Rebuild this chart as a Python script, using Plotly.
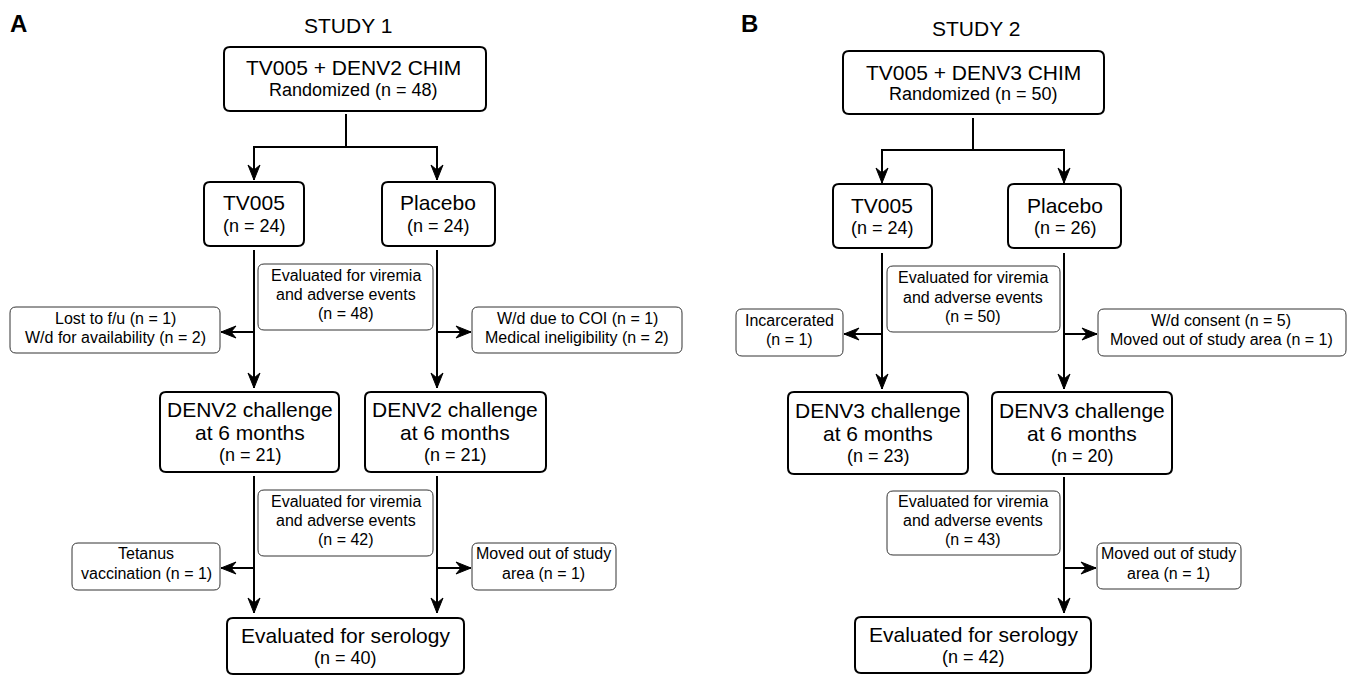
import plotly.graph_objects as go

# ---------------- DATA ----------------
panel_letters = ["A", "B"]
study_titles = ["STUDY 1", "STUDY 2"]
chim_labels = ["TV005 + DENV2 CHIM", "TV005 + DENV3 CHIM"]
randomized_n = [48, 50]
arm_names = ["TV005", "Placebo"]
arm_n = [[24, 24], [24, 26]]
eval_vacc_n = [48, 50]
# pre-challenge withdrawals (left arm / right arm)
s1_pre_left_reasons = ["Lost to f/u", "W/d for availability"]
s1_pre_left_n = [1, 2]
s1_pre_right_reasons = ["W/d due to COI", "Medical ineligibility"]
s1_pre_right_n = [1, 2]
s2_pre_left_reasons = ["Incarcerated"]
s2_pre_left_n = [1]
s2_pre_right_reasons = ["W/d consent", "Moved out of study area"]
s2_pre_right_n = [5, 1]
challenge_virus = ["DENV2", "DENV3"]
challenge_n = [[21, 21], [23, 20]]
eval_chal_n = [42, 43]
# post-challenge withdrawals
s1_post_left_reason = ["Tetanus", "vaccination"]
s1_post_left_n = [1]
post_right_reason = ["Moved out of study", "area"]
post_right_n = [1, 1]
serology_n = [40, 42]

# ---------------- DRAWING HELPERS ----------------
FONT = "Liberation Sans, Arial, Helvetica, sans-serif"
shapes, annotations = [], []


def nlab(n):
    return f"(n = {n})"


def rbox(b, lw=2, r=6, color="black"):
    x0, y0, x1, y1 = b
    p = (f"M{x0+r},{y0} L{x1-r},{y0} Q{x1},{y0} {x1},{y0+r} L{x1},{y1-r} "
         f"Q{x1},{y1} {x1-r},{y1} L{x0+r},{y1} Q{x0},{y1} {x0},{y1-r} "
         f"L{x0},{y0+r} Q{x0},{y0} {x0+r},{y0} Z")
    shapes.append(dict(type="path", path=p, xref="x", yref="y",
                       line=dict(color=color, width=lw), fillcolor="white"))


def txt(x, y, s, size, bold=False):
    annotations.append(dict(x=x, y=y, xref="x", yref="y",
                            text=f"<b>{s}</b>" if bold else s, showarrow=False,
                            font=dict(family=FONT, size=size, color="black"),
                            xanchor="center", yanchor="middle"))


def lines(x, ys, texts, sizes):
    for y, t, s in zip(ys, texts, sizes):
        txt(x, y, t, s)


def seg(pts, lw=2):
    p = "M" + " L".join(f"{x},{y}" for x, y in pts)
    shapes.append(dict(type="path", path=p, xref="x", yref="y",
                       line=dict(color="black", width=lw)))


def head(x, y, d):
    L, w, n = 15, 6, 10
    if d == "down":
        p = f"M{x},{y} L{x-w},{y-L} L{x},{y-n} L{x+w},{y-L} Z"
    elif d == "left":
        p = f"M{x},{y} L{x+L},{y-w} L{x+n},{y} L{x+L},{y+w} Z"
    else:
        p = f"M{x},{y} L{x-L},{y-w} L{x-n},{y} L{x-L},{y+w} Z"
    shapes.append(dict(type="path", path=p, xref="x", yref="y",
                       line=dict(color="black", width=1), fillcolor="black"))


def arrow(pts, d):
    seg(pts)
    head(pts[-1][0], pts[-1][1], d)


SMALL, MID, BIG = 16, 18, 21

# ---------------- STUDY 1 ----------------
i = 0
txt(18, 23, panel_letters[i], 24, bold=True)
txt(348, 25, study_titles[i], BIG)
rbox((224, 47, 486, 111))
lines(353, [67, 90], [chim_labels[i], f"Randomized {nlab(randomized_n[i])}"], [BIG, MID])
seg([(346, 114), (346, 147)])
arrow([(346, 147), (254, 147), (254, 180)], "down")
arrow([(346, 147), (437, 147), (437, 180)], "down")
rbox((204, 182, 304, 246))
lines(254, [202, 226], [arm_names[0], nlab(arm_n[i][0])], [BIG, MID])
rbox((382, 182, 495, 246))
lines(438, [202, 226], [arm_names[1], nlab(arm_n[i][1])], [BIG, MID])
arrow([(254, 250), (254, 388)], "down")
arrow([(437, 250), (437, 388)], "down")
rbox((258, 264, 433, 330), lw=1, color="#333")
lines(346, [275, 294, 313], ["Evaluated for viremia", "and adverse events", nlab(eval_vacc_n[i])], [SMALL] * 3)
rbox((10, 307, 220, 353), lw=1, color="#333")
lines(115, [318, 337], [f"{r} {nlab(n)}" for r, n in zip(s1_pre_left_reasons, s1_pre_left_n)], [SMALL] * 2)
arrow([(254, 332), (221, 332)], "left")
rbox((472, 307, 682, 353), lw=1, color="#333")
lines(577, [318, 337], [f"{r} {nlab(n)}" for r, n in zip(s1_pre_right_reasons, s1_pre_right_n)], [SMALL] * 2)
arrow([(437, 332), (471, 332)], "right")
rbox((160, 392, 339, 472))
lines(250, [409, 432, 455], [f"{challenge_virus[i]} challenge", "at 6 months", nlab(challenge_n[i][0])], [BIG, BIG, MID])
rbox((365, 392, 546, 472))
lines(455, [409, 432, 455], [f"{challenge_virus[i]} challenge", "at 6 months", nlab(challenge_n[i][1])], [BIG, BIG, MID])
arrow([(254, 476), (254, 613)], "down")
arrow([(437, 476), (437, 613)], "down")
rbox((258, 490, 433, 556), lw=1, color="#333")
lines(346, [501, 520, 539], ["Evaluated for viremia", "and adverse events", nlab(eval_chal_n[i])], [SMALL] * 3)
rbox((72, 543, 220, 590), lw=1, color="#333")
lines(146, [553, 573], [s1_post_left_reason[0], f"{s1_post_left_reason[1]} {nlab(s1_post_left_n[0])}"], [SMALL] * 2)
arrow([(254, 568), (221, 568)], "left")
rbox((472, 543, 616, 590), lw=1, color="#333")
lines(543, [553, 573], [post_right_reason[0], f"{post_right_reason[1]} {nlab(post_right_n[i])}"], [SMALL] * 2)
arrow([(437, 568), (471, 568)], "right")
rbox((227, 618, 464, 674))
lines(345, [635, 658], ["Evaluated for serology", nlab(serology_n[i])], [BIG, MID])

# ---------------- STUDY 2 ----------------
i = 1
txt(749, 23, panel_letters[i], 24, bold=True)
txt(976, 28, study_titles[i], BIG)
rbox((843, 51, 1104, 114))
lines(973, [72, 94], [chim_labels[i], f"Randomized {nlab(randomized_n[i])}"], [BIG, MID])
seg([(973, 118), (973, 150)])
arrow([(973, 150), (882, 150), (882, 183)], "down")
arrow([(973, 150), (1064, 150), (1064, 183)], "down")
rbox((833, 184, 932, 248))
lines(882, [205, 228], [arm_names[0], nlab(arm_n[i][0])], [BIG, MID])
rbox((1008, 184, 1121, 248))
lines(1065, [205, 228], [arm_names[1], nlab(arm_n[i][1])], [BIG, MID])
arrow([(882, 253), (882, 389)], "down")
arrow([(1064, 253), (1064, 389)], "down")
rbox((887, 266, 1060, 332), lw=1, color="#333")
lines(973, [277, 297, 316], ["Evaluated for viremia", "and adverse events", nlab(eval_vacc_n[i])], [SMALL] * 3)
rbox((736, 309, 843, 356), lw=1, color="#333")
lines(789, [320, 339], [s2_pre_left_reasons[0], nlab(s2_pre_left_n[0])], [SMALL] * 2)
arrow([(882, 334), (844, 334)], "left")
rbox((1098, 309, 1346, 356), lw=1, color="#333")
lines(1221, [320, 339], [f"{r} {nlab(n)}" for r, n in zip(s2_pre_right_reasons, s2_pre_right_n)], [SMALL] * 2)
arrow([(1064, 334), (1097, 334)], "right")
rbox((788, 392, 968, 474))
lines(878, [410, 433, 456], [f"{challenge_virus[i]} challenge", "at 6 months", nlab(challenge_n[i][0])], [BIG, BIG, MID])
rbox((992, 392, 1172, 474))
lines(1082, [410, 433, 456], [f"{challenge_virus[i]} challenge", "at 6 months", nlab(challenge_n[i][1])], [BIG, BIG, MID])
arrow([(1064, 477), (1064, 613)], "down")
rbox((887, 491, 1060, 555), lw=1, color="#333")
lines(973, [501, 520, 539], ["Evaluated for viremia", "and adverse events", nlab(eval_chal_n[i])], [SMALL] * 3)
rbox((1097, 543, 1241, 589), lw=1, color="#333")
lines(1168, [553, 573], [post_right_reason[0], f"{post_right_reason[1]} {nlab(post_right_n[i])}"], [SMALL] * 2)
arrow([(1064, 568), (1096, 568)], "right")
rbox((855, 617, 1091, 673))
lines(973, [634, 657], ["Evaluated for serology", nlab(serology_n[i])], [BIG, MID])

# ---------------- FIGURE ----------------
fig = go.Figure()
fig.update_layout(
    width=1350, height=676,
    margin=dict(l=0, r=0, t=0, b=0),
    paper_bgcolor="white", plot_bgcolor="white",
    xaxis=dict(range=[0, 1350], visible=False, fixedrange=True),
    yaxis=dict(range=[676, 0], visible=False, fixedrange=True),
    shapes=shapes, annotations=annotations, showlegend=False,
)
fig.write_html("out.html", config={"displayModeBar": False},
               post_script="document.body.style.margin='0';document.body.style.overflow='hidden';")
